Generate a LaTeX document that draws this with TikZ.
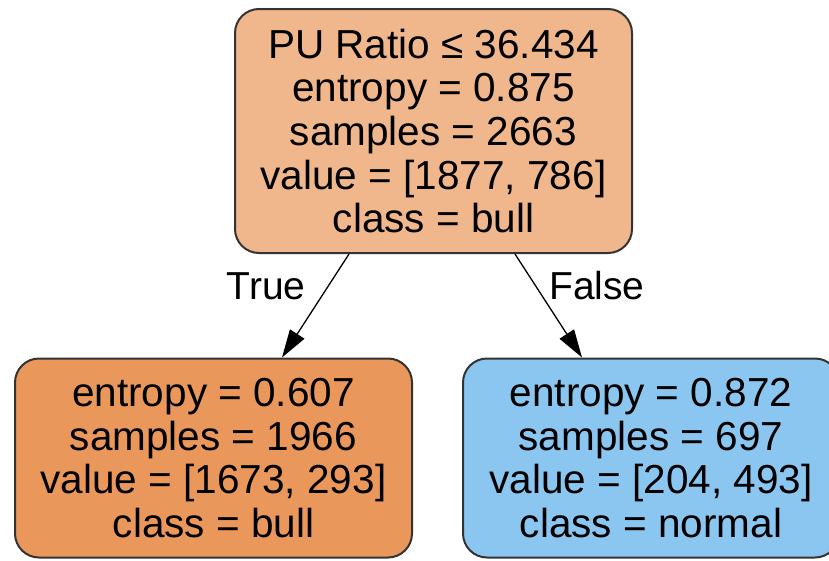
\documentclass[tikz,border=0pt]{standalone}
\usepackage{fontspec}
\setmainfont{Liberation Sans}
\usetikzlibrary{arrows.meta}

\definecolor{rootfill}{RGB}{240,182,140}
\definecolor{bullfill}{RGB}{234,151,92}
\definecolor{normalfill}{RGB}{139,198,240}

\begin{document}
\begin{tikzpicture}[x=1pt,y=1pt,
  treenode/.style={draw=black!80, line width=2pt, rounded corners=24pt,
    align=center, inner sep=0pt, font=\fontsize{40.5}{43.6}\selectfont},
  split/.style={-{Triangle[length=28pt,width=17pt]}, line width=1.3pt},
  edgelabel/.style={font=\fontsize{39}{43}\selectfont}]
  \useasboundingbox (0,0) rectangle (829,-560);
  \node [treenode, fill=rootfill, minimum width=397pt, minimum height=244pt]
    (root) at (433.5,-131)
    {PU Ratio ≤ 36.434\\entropy = 0.875\\samples = 2663\\value = [1877, 786]\\class = bull};
  \node [treenode, fill=bullfill, minimum width=397pt, minimum height=199pt]
    (left) at (213.5,-458)
    {entropy = 0.607\\samples = 1966\\value = [1673, 293]\\class = bull};
  \node [treenode, fill=normalfill, minimum width=376pt, minimum height=199pt]
    (right) at (651,-458)
    {entropy = 0.872\\samples = 697\\value = [204, 493]\\class = normal};
  % edges
  \draw [split] ([xshift=-84.5pt]root.south) -- ([xshift=68.5pt]left.north);
  \draw [split] ([xshift=81.5pt]root.south) -- ([xshift=-69pt]right.north);
  \node [edgelabel] (truelab) at (266,-286) {True};
  \node [edgelabel] (falselab) at (597,-286) {False};
\end{tikzpicture}
\end{document}
